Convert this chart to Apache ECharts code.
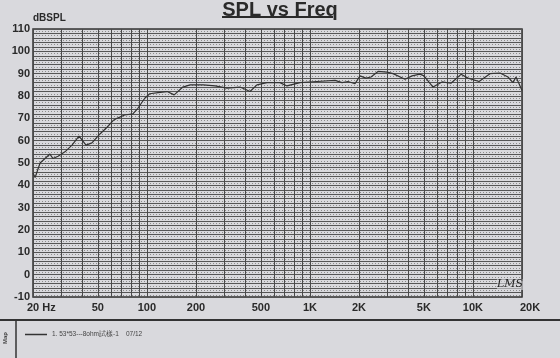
<!DOCTYPE html>
<html><head><meta charset="utf-8">
<script src="https://cdn.jsdelivr.net/npm/echarts@6/dist/echarts.min.js"></script>
<style>html,body{margin:0;padding:0;background:#d9d9dd;}#c{width:560px;height:358px;}</style>
</head><body><div id="c"></div>
<script>
// Frequency (Hz) and SPL (dB)
const freqs = [20, 20.6, 22.1, 23.7, 25.4, 26.5, 28.5, 31.4, 34.7, 38.3, 42.3, 46, 51.5, 56.9, 62, 65.5, 73, 82, 88, 97, 104, 117, 133, 147, 166, 184, 221, 262, 310, 372, 400, 429, 473, 546, 655, 723, 869, 1104, 1426, 1574, 1712, 1890, 2028, 2208, 2370, 2616, 2972, 3236, 3832, 4228, 4734, 5010, 5690, 6460, 7332, 8450, 9330, 10896, 12730, 14656, 16408, 17608, 18370, 19190, 20000];
const spl   = [45.5, 43.5, 50, 52, 54, 52, 53, 55, 58, 62, 58, 59, 63, 66, 69, 70, 71.5, 72, 74.5, 79, 81, 81.5, 82, 80.5, 84, 85, 85, 84.5, 83.5, 84, 83, 82, 85, 86, 86, 84.5, 86, 86.5, 87, 86, 86.5, 85.5, 89, 88, 88.5, 91, 90.7, 90, 87.5, 89, 89.8, 89, 84, 86.3, 85.7, 89.7, 88, 86.5, 90, 90.3, 88.5, 86, 88.5, 85.5, 82.5];
const gridFreqs = [20,30,40,50,60,70,80,90,100,200,300,400,500,600,700,800,900,1000,2000,3000,4000,5000,6000,7000,8000,9000,10000,20000];
const xTickValues = [20, 50, 100, 200, 500, 1000, 2000, 5000, 10000, 20000];
const xTickLabels = ['20 Hz', '50', '100', '200', '500', '1K', '2K', '5K', '10K', '20K'];
const yMin = -10, yMax = 110;
const seriesName = '1. 53*53---8ohm試樣-1    07/12';

const chart = echarts.init(document.getElementById('c'));
const font = 'Arial, "Liberation Sans", sans-serif';
const data = freqs.map((f, i) => [f, spl[i]]);

const gridLineData = gridFreqs.map(f => ({xAxis: f}));
const labelData = xTickValues.map((f, i) => ({
  xAxis: f,
  label: {
    show: true, position: 'start', formatter: xTickLabels[i], distance: 5,
    fontFamily: font, fontWeight: 'bold', fontSize: 11, color: '#2a2a2a',
    align: i === 0 ? 'left' : 'center',
    offset: i === 0 ? [-6, 0] : (i === xTickValues.length - 1 ? [8, 0] : [0, 0])
  }
}));

chart.setOption({
  backgroundColor: '#d9d9dd',
  animation: false,
  title: {
    text: 'SPL vs Freq', left: 'center', top: -5,
    textStyle: {fontFamily: font, fontWeight: 'bold', fontSize: 20, color: '#2a2a2a'}
  },
  legend: {
    left: 20, top: 326, itemWidth: 22, itemHeight: 1.5, itemGap: 3, icon: 'rect',
    textStyle: {fontFamily: font, fontSize: 6.5, color: '#444'},
    data: [seriesName]
  },
  grid: {left: 33, right: 38, top: 29, bottom: 61, show: true, borderColor: '#333', borderWidth: 1.5, backgroundColor: 'transparent'},
  xAxis: {
    type: 'log', logBase: 10, min: 20, max: 20000,
    axisLine: {show: false}, axisTick: {show: false}, axisLabel: {show: false},
    splitLine: {show: false}
  },
  yAxis: {
    type: 'value', min: yMin, max: yMax, interval: 2,
    name: 'dBSPL', nameLocation: 'end', nameGap: 3,
    nameTextStyle: {fontFamily: font, fontWeight: 'bold', fontSize: 10, color: '#2a2a2a', align: 'left'},
    axisLine: {show: false}, axisTick: {show: false},
    axisLabel: {
      fontFamily: font, fontWeight: 'bold', fontSize: 11, color: '#2a2a2a', margin: 3,
      formatter: v => (v % 10 === 0 ? String(v) : '')
    },
    splitLine: {show: true, lineStyle: {color: '#555', width: 1}},
    minorTick: {show: false, splitNumber: 2},
    minorSplitLine: {show: true, lineStyle: {color: '#8a8a8a', width: 1, type: [1, 2]}}
  },
  series: [
    {
      name: seriesName, type: 'line', data: data, symbol: 'none', smooth: false,
      lineStyle: {color: '#333', width: 1.2}, itemStyle: {color: '#333'}, z: 5,
      markLine: {
        silent: true, symbol: 'none', animation: false,
        label: {show: false},
        lineStyle: {color: '#4a4a4a', width: 1, type: 'solid'},
        data: gridLineData.concat(labelData)
      }
    }
  ],
  graphic: [
    {type: 'line', z: 100, shape: {x1: 222, y1: 17, x2: 333, y2: 17}, style: {stroke: '#2a2a2a', lineWidth: 2}},
    {type: 'line', z: 100, shape: {x1: 0, y1: 320, x2: 560, y2: 320}, style: {stroke: '#333', lineWidth: 2}},
    {type: 'line', z: 100, shape: {x1: 16, y1: 320, x2: 16, y2: 358}, style: {stroke: '#333', lineWidth: 1.5}},
    {type: 'text', z: 100, x: 5, y: 338, rotation: Math.PI / 2, style: {text: 'Map', fontFamily: font, fontSize: 6, fontWeight: 'bold', fill: '#444', align: 'center', verticalAlign: 'middle'}},
    {type: 'text', z: 100, x: 497, y: 279, style: {text: 'LMS', fontFamily: '"DejaVu Serif", serif', fontStyle: 'italic', fontSize: 11, fill: '#222', backgroundColor: 'rgba(217,217,221,0.6)'}}
  ]
});
</script></body></html>
